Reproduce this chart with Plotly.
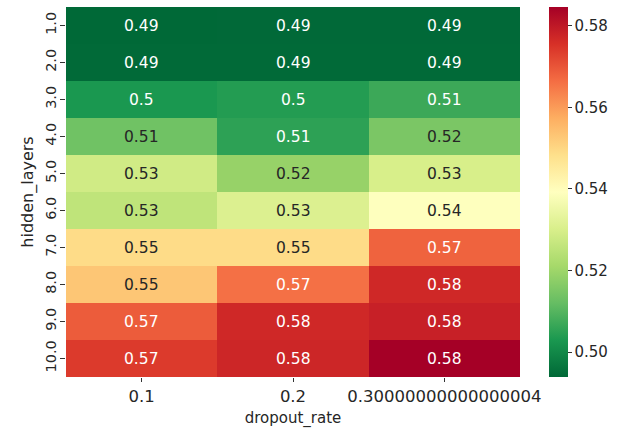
import plotly.graph_objects as go
import plotly.colors as pc

dropout_rate = ["0.1", "0.2", "0.30000000000000004"]
hidden_layers = ["1.0", "2.0", "3.0", "4.0", "5.0", "6.0", "7.0", "8.0", "9.0", "10.0"]

col_01 = [0.4940, 0.4942, 0.5030, 0.5135, 0.5285, 0.5255, 0.5490, 0.5530, 0.5690, 0.5740]
col_02 = [0.4941, 0.4943, 0.5040, 0.5052, 0.5190, 0.5310, 0.5490, 0.5660, 0.5770, 0.5775]
col_03 = [0.4941, 0.4942, 0.5070, 0.5150, 0.5300, 0.5390, 0.5680, 0.5770, 0.5785, 0.5846]

ZMIN, ZMAX = 0.4939, 0.5846

z = [[a, b, c] for a, b, c in zip(col_01, col_02, col_03)]

scale = pc.diverging.RdYlGn[::-1]


def cell_color(v):
    t = (v - ZMIN) / (ZMAX - ZMIN)
    t = min(max(t, 0), 1)
    n = len(scale) - 1
    i = min(int(t * n), n - 1)
    f = t * n - i
    c0 = pc.unlabel_rgb(scale[i])
    c1 = pc.unlabel_rgb(scale[i + 1])
    return [c0[k] + (c1[k] - c0[k]) * f for k in range(3)]


def lum(rgb):
    out = []
    for c in rgb:
        c = c / 255
        out.append(c / 12.92 if c <= 0.03928 else ((c + 0.055) / 1.055) ** 2.4)
    return 0.2126 * out[0] + 0.7152 * out[1] + 0.0722 * out[2]


FONT = "DejaVu Sans"
TXT = "#262626"

fig = go.Figure()
fig.add_trace(go.Heatmap(
    z=z, x=list(range(len(dropout_rate))), y=list(range(len(hidden_layers))),
    colorscale="RdYlGn_r", zmin=ZMIN, zmax=ZMAX,
    colorbar=dict(
        x=1.064, xanchor="left", y=0.5, yanchor="middle",
        len=1.0, lenmode="fraction", thickness=19, thicknessmode="pixels",
        outlinewidth=0, xpad=0, ypad=0,
        tickvals=[0.50, 0.52, 0.54, 0.56, 0.58],
        ticktext=["0.50", "0.52", "0.54", "0.56", "0.58"],
        ticks="outside", ticklen=4, tickcolor="#333",
        tickfont=dict(family=FONT, size=15, color=TXT),
    ),
    hoverinfo="skip",
))

annotations = []
for yi, row in enumerate(z):
    for xi, v in enumerate(row):
        color = "#ffffff" if lum(cell_color(v)) < 0.408 else TXT
        annotations.append(dict(
            x=xi, y=yi, xref="x", yref="y", text=f"{v:.2g}",
            showarrow=False, font=dict(family=FONT, size=15.5, color=color),
        ))

fig.update_layout(
    width=619, height=432,
    margin=dict(l=66, r=99, t=7, b=55),
    paper_bgcolor="white", plot_bgcolor="white",
    annotations=annotations,
    xaxis=dict(
        type="linear", range=[-0.5, 2.5],
        tickmode="array", tickvals=list(range(len(dropout_rate))), ticktext=dropout_rate,
        title=dict(text="dropout_rate", font=dict(family=FONT, size=15, color=TXT), standoff=7),
        tickfont=dict(family=FONT, size=16.5, color=TXT),
        ticks="outside", ticklen=4, tickcolor="#333", ticklabelstandoff=0,
        showgrid=False, zeroline=False, showline=False,
    ),
    yaxis=dict(
        type="linear", range=[9.5, -0.5],
        tickmode="array", tickvals=list(range(len(hidden_layers))), ticktext=hidden_layers,
        title=dict(text="hidden_layers", font=dict(family=FONT, size=16, color=TXT), standoff=5),
        tickfont=dict(family=FONT, size=14.5, color=TXT),
        tickangle=-90,
        ticks="outside", ticklen=5, tickcolor="#333", ticklabelstandoff=-2,
        showgrid=False, zeroline=False, showline=False,
    ),
)

fig.write_html("out.html")
